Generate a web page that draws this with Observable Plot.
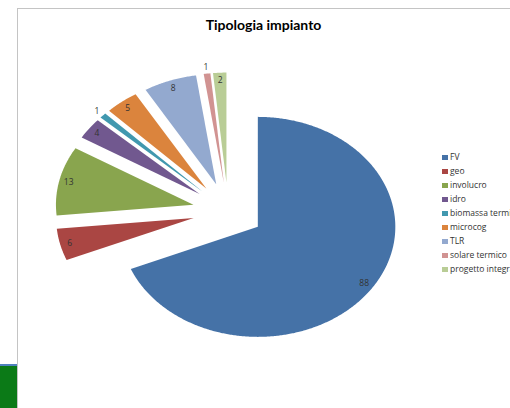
<!DOCTYPE html>
<html>
<head>
<meta charset="utf-8">
<script src="https://cdn.jsdelivr.net/npm/d3@7"></script>
<script src="https://cdn.jsdelivr.net/npm/@observablehq/plot@0.6"></script>
<style>
  html, body { margin: 0; padding: 0; background: #fff; }
  #wrap { position: relative; width: 510px; height: 408px; overflow: hidden; background: #fff; }
  #frame { position: absolute; left: 17px; top: 8px; width: 500px; height: 410px; border-left: 1px solid #c4c4c4; border-top: 1px solid #c4c4c4; }
  #bar { position: absolute; left: 0; top: 364px; width: 17px; height: 2px; background: #4f81bd; }
  #green { position: absolute; left: 0; top: 366px; width: 17px; height: 42px; background: #0b7a17; }
  #title { position: absolute; left: 17px; width: 493px; top: 16px; text-align: center; font: bold 14px Lato, "Open Sans", sans-serif; color: #000; }
  #chart { position: absolute; left: 0; top: 0; }
  #legend { position: absolute; left: 442px; top: 150px; font: 8.5px "Open Sans", "DejaVu Sans", sans-serif; color: #333; white-space: nowrap; }
  #legend div { height: 14px; line-height: 10px; display: flex; align-items: center; }
  #legend span.sw { display: inline-block; width: 6px; height: 5px; margin-right: 2px; flex: none; }
</style>
</head>
<body>
<div id="wrap">
  <div id="frame"></div>
  <div id="bar"></div>
  <div id="green"></div>
  <div id="chart"></div>
  <div id="title">Tipologia impianto</div>
  <div id="legend"></div>
</div>
<script>
const categories = ["FV", "geo", "involucro", "idro", "biomassa termica", "microcog", "TLR", "solare termico", "progetto integrato"];
const values = [88, 6, 13, 4, 1, 5, 8, 1, 2];
const palette = ["#4572A7", "#AA4643", "#89A54E", "#71588F", "#4198AF", "#DB843D", "#93A9CF", "#D19392", "#B9CD96"];

// pie geometry (unit radius, exploded slices)
const explode = 0.259;
const total = d3.sum(values);
const slices = [];
const labels = [];
let acc = 0;
categories.forEach((cat, i) => {
  const a0 = acc / total * 2 * Math.PI;
  acc += values[i];
  const a1 = acc / total * 2 * Math.PI;
  const m = (a0 + a1) / 2;
  const ox = explode * Math.sin(m), oy = explode * Math.cos(m);
  slices.push({cat, x: ox, y: oy});
  const n = Math.max(2, Math.ceil((a1 - a0) / (Math.PI / 360)));
  for (let k = 0; k <= n; k++) {
    const a = a0 + (a1 - a0) * k / n;
    slices.push({cat, x: ox + Math.sin(a), y: oy + Math.cos(a)});
  }
  const r = values[i] > 1 ? 0.93 : 1.06;
  labels.push({cat, value: values[i], x: ox + r * Math.sin(m), y: oy + r * Math.cos(m)});
});

const chart = Plot.plot({
  width: 510,
  height: 408,
  margin: 0,
  x: {domain: [-1.656, 2.053], axis: null},
  y: {domain: [-1.795, 1.914], axis: null},
  color: {domain: categories, range: palette},
  style: {background: "transparent"},
  marks: [
    Plot.line(slices, {x: "x", y: "y", z: "cat", fill: "cat", stroke: "none"}),
    Plot.text(labels, {x: "x", y: "y", text: "value", fill: "#333", fontSize: 8.5, fontFamily: "Open Sans, sans-serif"})
  ]
});
document.getElementById("chart").appendChild(chart);

const legend = document.getElementById("legend");
categories.forEach((cat, i) => {
  const row = document.createElement("div");
  const sw = document.createElement("span");
  sw.className = "sw";
  sw.style.background = palette[i];
  row.appendChild(sw);
  row.appendChild(document.createTextNode(cat));
  legend.appendChild(row);
});
</script>
</body>
</html>
